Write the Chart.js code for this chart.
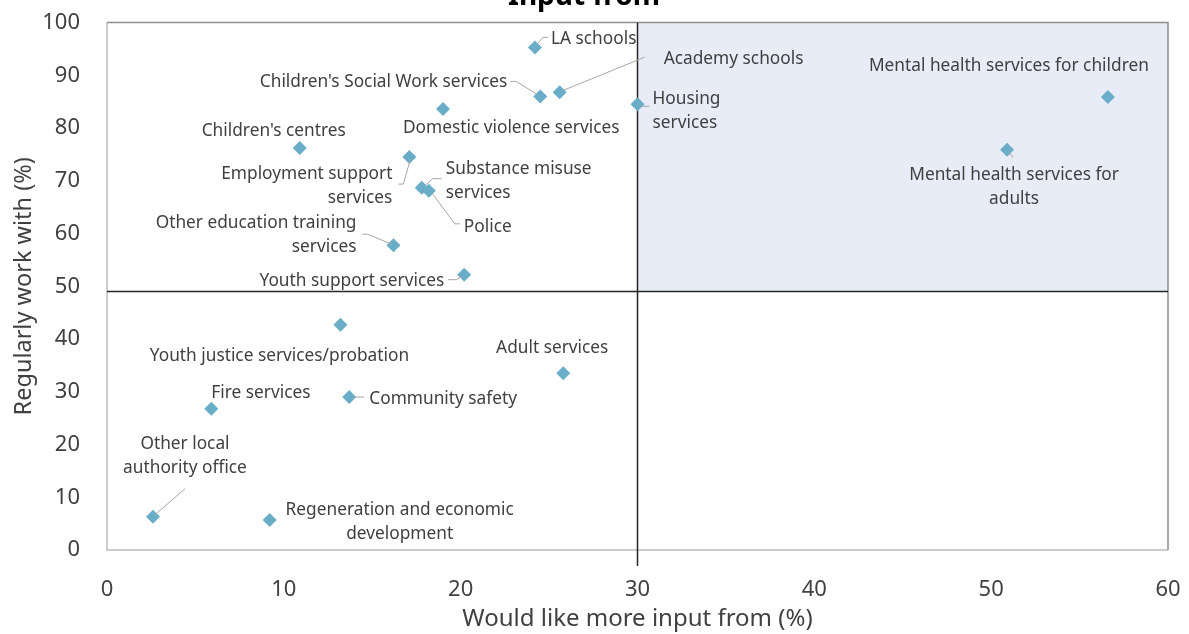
<!DOCTYPE html>
<html>
<head>
<meta charset="utf-8">
<script src="https://cdn.jsdelivr.net/npm/chart.js"></script>
<style>
  html, body { margin: 0; padding: 0; background: #fff; }
  #frame { position: relative; width: 1189px; height: 634px; overflow: hidden; }
  #holder { position: absolute; left: 0; top: -40px; width: 1189px; height: 674px; }
</style>
</head>
<body>
<div id="frame"><div id="holder"><canvas id="quadChart"></canvas></div></div>
<script>
// services and the two survey answers (%)
var services = [
  "LA schools",
  "Academy schools",
  "Children's Social Work services",
  "Housing services",
  "Domestic violence services",
  "Children's centres",
  "Employment support services",
  "Substance misuse services",
  "Police",
  "Other education training services",
  "Youth support services",
  "Mental health services for children",
  "Mental health services for adults",
  "Youth justice services/probation",
  "Adult services",
  "Fire services",
  "Community safety",
  "Other local authority office",
  "Regeneration and economic development"
];
var moreInput = [24.2, 25.6, 24.5, 30.0, 19.0, 10.9, 17.1, 17.8, 18.2, 16.2, 20.2, 56.6, 50.9, 13.2, 25.8, 5.9, 13.7, 2.6, 9.2];
var workWith  = [95.3, 86.8, 86.0, 84.5, 83.6, 76.2, 74.5, 68.7, 68.1, 57.8, 52.2, 85.9, 75.9, 42.7, 33.5, 26.8, 29.0, 6.3, 5.7];

var xTicks = [0, 10, 20, 30, 40, 50, 60];
var yTicks = [0, 10, 20, 30, 40, 50, 60, 70, 80, 90, 100];

// where the quadrant lines cross
var splitX = 30;
var splitY = 49;

// label placement: offset from the point (px), alignment, words on first line, leader line
var placement = [
  { a: 'left',   dx: 16,  dy: -8,  lead: [[2,-3],[8,-10],[13,-10]] },
  { a: 'left',   dx: 104, dy: -33, lead: [[4,-2],[85,-35]] },
  { a: 'right',  dx: -33, dy: -14, lead: [[-3,-2],[-24,-15],[-30,-15]] },
  { a: 'left',   dx: 15,  dy: -5,  split: 1, lead: [[3,2],[12,2]] },
  { a: 'left',   dx: -40, dy: 19 },
  { a: 'center', dx: -26, dy: -17 },
  { a: 'right',  dx: -17, dy: 17,  split: 2, lead: [[1,2],[-6,27],[-11,27]] },
  { a: 'left',   dx: 24,  dy: -19, split: 2, lead: [[3,-2],[11,-9],[20,-9]] },
  { a: 'left',   dx: 35,  dy: 36,  lead: [[3,2],[26,33],[31,33]] },
  { a: 'right',  dx: -37, dy: -22, split: 3, lead: [[-2,-1],[-26,-11],[-31,-11]] },
  { a: 'right',  dx: -20, dy: 6,   lead: [[-2,2],[-8,5],[-16,5]] },
  { a: 'center', dx: -99, dy: -31 },
  { a: 'center', dx: 7,   dy: 25,  split: 4, lead: [[2,2],[6,8]] },
  { a: 'center', dx: -61, dy: 31 },
  { a: 'center', dx: -11, dy: -25 },
  { a: 'left',   dx: 0,   dy: -16 },
  { a: 'left',   dx: 20,  dy: 2,   lead: [[3,0],[15,0]] },
  { a: 'center', dx: 32,  dy: -73, split: 2, lead: [[2,-2],[32,-28]] },
  { a: 'center', dx: 130, dy: -10, split: 3 }
];

var fontFam = "'Noto Sans', 'Open Sans', sans-serif";

var quadrantPlugin = {
  id: 'quadrant',
  beforeDatasetsDraw: function(chart) {
    var ctx = chart.ctx, a = chart.chartArea;
    var xs = chart.scales.x, ys = chart.scales.y;
    var px = xs.getPixelForValue(splitX), py = ys.getPixelForValue(splitY);
    ctx.save();
    ctx.fillStyle = '#e8ecf7';
    ctx.fillRect(px, a.top, a.right - px, py - a.top);

    // plot frame
    ctx.lineWidth = 1.5;
    ctx.strokeStyle = '#bdbdbd';
    ctx.beginPath();
    ctx.moveTo(a.left, a.top); ctx.lineTo(a.left, a.bottom); ctx.lineTo(a.right, a.bottom);
    ctx.stroke();
    ctx.strokeStyle = '#8e8e8e';
    ctx.beginPath();
    ctx.moveTo(a.left, a.top); ctx.lineTo(a.right, a.top); ctx.lineTo(a.right, a.bottom);
    ctx.stroke();

    // crossing lines
    ctx.strokeStyle = '#262626';
    ctx.lineWidth = 1.5;
    ctx.beginPath();
    ctx.moveTo(a.left, py); ctx.lineTo(a.right, py);
    ctx.moveTo(px, a.top); ctx.lineTo(px, a.bottom + 16);
    ctx.stroke();
    ctx.restore();
  },
  afterDatasetsDraw: function(chart) {
    var ctx = chart.ctx;
    var pts = chart.getDatasetMeta(0).data;
    ctx.save();
    ctx.font = '17.3px ' + fontFam;
    ctx.fillStyle = '#404040';
    ctx.textBaseline = 'middle';
    pts.forEach(function(p, i) {
      var lp = placement[i];
      if (lp.lead) {
        ctx.strokeStyle = '#a6a6a6';
        ctx.lineWidth = 1;
        ctx.beginPath();
        lp.lead.forEach(function(o, k) {
          if (k === 0) ctx.moveTo(p.x + o[0], p.y + o[1]);
          else ctx.lineTo(p.x + o[0], p.y + o[1]);
        });
        ctx.stroke();
      }
      var words = services[i].split(' ');
      var lines = lp.split ? [words.slice(0, lp.split).join(' '), words.slice(lp.split).join(' ')] : [services[i]];
      ctx.textAlign = lp.a;
      lines.forEach(function(t, k) {
        ctx.fillText(t, p.x + lp.dx, p.y + lp.dy + k * 24);
      });
    });
    ctx.restore();
  }
};

var ctx = document.getElementById('quadChart').getContext('2d');
var quadChart = new Chart(ctx, {
  type: 'scatter',
  data: {
    datasets: [{
      data: moreInput.map(function(v, i) { return { x: v, y: workWith[i] }; }),
      pointStyle: 'rectRot',
      pointRadius: 7,
      pointHoverRadius: 7,
      backgroundColor: '#6aadc8',
      borderWidth: 0
    }]
  },
  options: {
    responsive: true,
    maintainAspectRatio: false,
    animation: false,
    events: [],
    layout: { padding: { left: 0, right: 21, top: 0, bottom: 0 } },
    plugins: {
      legend: { display: false },
      tooltip: { enabled: false },
      title: {
        display: true,
        text: 'Input from',
        color: '#000',
        font: { family: fontFam, size: 28, weight: 'bold' },
        padding: { top: 20, bottom: 9 }
      }
    },
    scales: {
      x: {
        type: 'linear',
        min: 0, max: 60,
        afterBuildTicks: function(s) { s.ticks = xTicks.map(function(v) { return { value: v }; }); },
        afterFit: function(s) { s.height = 84; s.paddingLeft = 0; s.paddingRight = 0; },
        grid: { display: false, drawTicks: false },
        border: { display: false },
        ticks: { color: '#404040', padding: 27, font: { family: fontFam, size: 22 } },
        title: {
          display: true,
          text: 'Would like more input from (%)',
          color: '#404040',
          font: { family: fontFam, size: 24 },
          padding: { top: 0, bottom: 0 }
        }
      },
      y: {
        type: 'linear',
        min: 0, max: 100,
        afterBuildTicks: function(s) { s.ticks = yTicks.map(function(v) { return { value: v }; }); },
        afterFit: function(s) { s.width = 107; },
        grid: { display: false, drawTicks: false },
        border: { display: false },
        ticks: { color: '#404040', padding: 27, font: { family: fontFam, size: 22 } },
        title: {
          display: true,
          text: 'Regularly work with (%)',
          color: '#404040',
          font: { family: fontFam, size: 23.5 },
          padding: { top: 10, bottom: 0 }
        }
      }
    }
  },
  plugins: [quadrantPlugin]
});
</script>
</body>
</html>
